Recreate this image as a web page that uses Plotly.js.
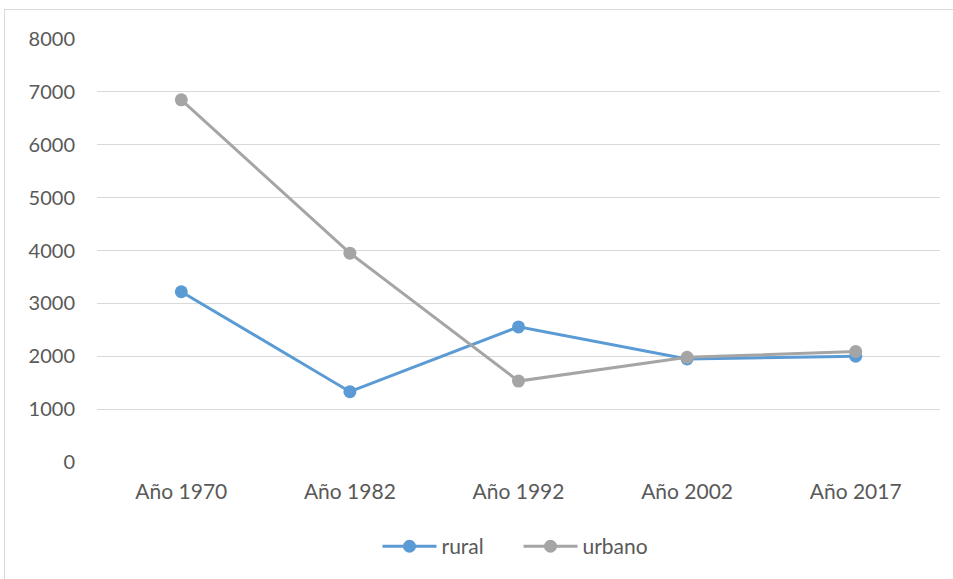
<!DOCTYPE html>
<html>
<head>
<meta charset="utf-8">
<script src="https://cdn.plot.ly/plotly-3.0.1.min.js"></script>
<style>
  html, body { margin: 0; padding: 0; background: #fff; }
  #wrap { position: relative; width: 953px; height: 579px; overflow: hidden; }
  #chart { position: absolute; left: 0; top: 0; width: 953px; height: 579px; }
  #frame { position: absolute; left: 4px; top: 9px; width: 960px; height: 600px; border: 1px solid #D9D9D9; box-sizing: border-box; pointer-events: none; }
</style>
</head>
<body>
<div id="wrap">
  <div id="chart"></div>
  <div id="frame"></div>
</div>
<script>
const categories = ["Año 1970", "Año 1982", "Año 1992", "Año 2002", "Año 2017"];
const rural = [3220, 1330, 2555, 1950, 2000];
const urbano = [6850, 3950, 1530, 1980, 2090];
const yTicks = [0, 1000, 2000, 3000, 4000, 5000, 6000, 7000, 8000];

const fam = "Lato, 'Open Sans', sans-serif";
const font = { family: fam, size: 20, color: "#595959" };
const xfont = { family: fam, size: 21, color: "#595959" };
const lfont = { family: fam, size: 21, color: "#595959" };

const traces = [
  { name: "rural", x: categories, y: rural, type: "scatter", mode: "lines+markers",
    line: { color: "#5B9BD5", width: 3 }, marker: { color: "#5B9BD5", size: 13 } },
  { name: "urbano", x: categories, y: urbano, type: "scatter", mode: "lines+markers",
    line: { color: "#A5A5A5", width: 3 }, marker: { color: "#A5A5A5", size: 13 } }
];

const layout = {
  width: 953, height: 579,
  margin: { l: 97, r: 13, t: 39, b: 116.5 },
  paper_bgcolor: "#fff", plot_bgcolor: "#fff",
  font: font,
  showlegend: true,
  legend: { orientation: "h", x: 0.5, xanchor: "center", y: -0.2, yanchor: "middle",
            font: lfont, itemwidth: 54, tracegroupgap: 0, entrywidth: 72 },
  xaxis: { type: "category", range: [-0.5, 4.5], showgrid: false, zeroline: false, showline: false,
           ticks: "", tickfont: xfont, ticklabelstandoff: 15 },
  yaxis: { range: [0, 8000], tickvals: yTicks, showgrid: true, gridcolor: "#D9D9D9", gridwidth: 1,
           zeroline: false, showline: false, ticks: "", tickfont: font, ticklabelstandoff: 21 }
};

Plotly.newPlot("chart", traces, layout, { staticPlot: true, displayModeBar: false });
</script>
</body>
</html>
